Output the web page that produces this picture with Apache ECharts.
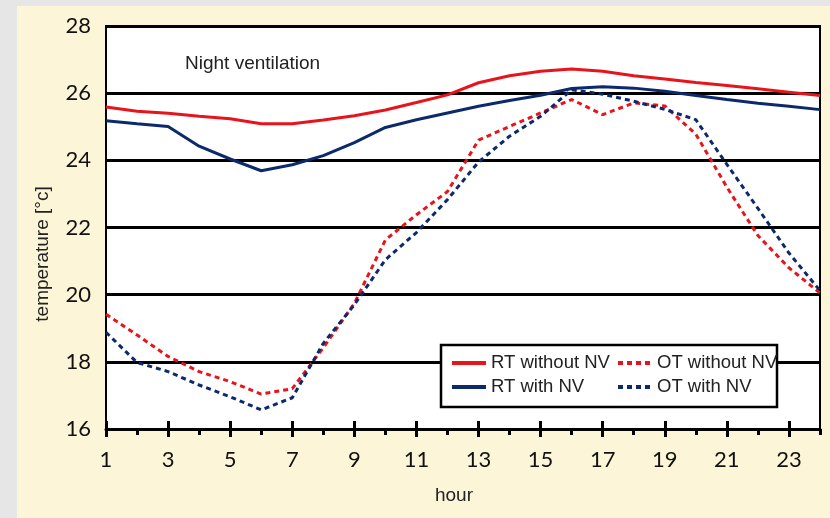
<!DOCTYPE html>
<html><head><meta charset="utf-8">
<script src="https://cdn.jsdelivr.net/npm/echarts@6/dist/echarts.min.js"></script>
<style>
html,body{margin:0;padding:0;background:#e6e6e6;}
#wrap{position:relative;width:830px;height:518px;overflow:hidden;background:#e6e6e6;}
#panel{position:absolute;left:17px;top:6px;right:0;bottom:0;background:#fdf5d8;}
#chart{position:absolute;left:0;top:0;width:830px;height:518px;}
</style></head><body>
<div id="wrap"><div id="panel"></div><div id="chart"></div></div>
<script>
const hours = ['1','2','3','4','5','6','7','8','9','10','11','12','13','14','15','16','17','18','19','20','21','22','23','24'];
const yTicks = [16, 18, 20, 22, 24, 26, 28];
const rtWithoutNV = [25.59, 25.46, 25.40, 25.31, 25.24, 25.09, 25.09, 25.20, 25.33, 25.50, 25.72, 25.95, 26.31, 26.52, 26.65, 26.72, 26.65, 26.52, 26.42, 26.32, 26.23, 26.13, 26.03, 25.93];
const rtWithNV    = [25.18, 25.09, 25.01, 24.42, 24.04, 23.69, 23.87, 24.14, 24.53, 24.98, 25.21, 25.41, 25.61, 25.78, 25.94, 26.14, 26.19, 26.15, 26.06, 25.93, 25.81, 25.70, 25.61, 25.51];
const otWithoutNV = [19.42, 18.80, 18.16, 17.71, 17.41, 17.04, 17.20, 18.42, 19.74, 21.63, 22.38, 23.07, 24.60, 25.01, 25.41, 25.81, 25.36, 25.71, 25.62, 24.78, 23.20, 21.76, 20.80, 20.05];
const otWithNV    = [18.88, 17.98, 17.71, 17.31, 16.96, 16.57, 16.93, 18.55, 19.70, 21.04, 21.85, 22.83, 23.95, 24.72, 25.31, 26.10, 25.97, 25.76, 25.52, 25.21, 23.88, 22.57, 21.24, 20.12];

const RED = '#e8141c', NAVY = '#0c2a6b';
const labelFont = 'Lato, "Liberation Sans", sans-serif';
const textFont = '"Liberation Sans", Arial, sans-serif';

const chart = echarts.init(document.getElementById('chart'), null, {renderer:'canvas'});
const xCommon = {type:'category', data:hours, boundaryGap:false, position:'bottom', splitLine:{show:false}};
const legendCommon = {orient:'vertical', top:353, padding:0, itemWidth:34, itemHeight:14, itemGap:4, z:20,
  itemStyle:{opacity:0, borderWidth:0},
  lineStyle:{width:4},
  textStyle:{fontSize:18.5, fontFamily:textFont, color:'#222', lineHeight:20}};

chart.setOption({
  animation:false,
  backgroundColor:'transparent',
  grid:{left:106, right:10, top:26, bottom:89, show:true, backgroundColor:'#fff', borderColor:'#000', borderWidth:2, outerBoundsMode:'none', containLabel:false},
  xAxis:[
    Object.assign({}, xCommon, {
      axisLine:{show:true, lineStyle:{color:'#000', width:3}},
      axisTick:{show:true, interval:(i)=>i%2===0, length:8, lineStyle:{color:'#000', width:3}},
      axisLabel:{interval:(i)=>i%2===0, fontSize:22, fontFamily:labelFont, color:'#111', margin:20}
    }),
    Object.assign({}, xCommon, {
      axisLine:{show:false},
      axisTick:{show:true, inside:true, interval:(i)=>i%2===0, length:8, lineStyle:{color:'#000', width:3}},
      axisLabel:{show:false}
    }),
    Object.assign({}, xCommon, {
      axisLine:{show:false},
      axisTick:{show:true, interval:(i)=>i%2===1, length:6, lineStyle:{color:'#000', width:3}},
      axisLabel:{show:false}
    })
  ],
  yAxis:{type:'value', min:yTicks[0], max:yTicks[yTicks.length-1], interval:yTicks[1]-yTicks[0],
    axisLine:{show:true, lineStyle:{color:'#000', width:2}},
    axisTick:{show:false},
    axisLabel:{fontSize:22, fontFamily:labelFont, color:'#111', margin:15},
    splitLine:{show:true, lineStyle:{color:'#000', width:3}}
  },
  legend:[
    Object.assign({}, legendCommon, {left:450, data:['RT without NV','RT with NV']}),
    Object.assign({}, legendCommon, {left:616, data:['OT without NV','OT with NV']})
  ],
  graphic:[
    {type:'rect', shape:{x:441, y:345, width:336, height:62}, style:{fill:'#fff', stroke:'#000', lineWidth:2.5}, z:5},
    {type:'text', x:185, y:64, style:{text:'Night ventilation', fontSize:19, fontFamily:textFont, fill:'#222', align:'left', verticalAlign:'middle', textAlign:'left', textVerticalAlign:'middle'}},
    {type:'text', x:454, y:496, style:{text:'hour', fontSize:19, fontFamily:textFont, fill:'#222', align:'center', verticalAlign:'middle', textAlign:'center', textVerticalAlign:'middle'}},
    {type:'text', x:43, y:254, rotation:Math.PI/2, style:{text:'temperature [°c]', fontSize:19, fontFamily:textFont, fill:'#222', align:'center', verticalAlign:'middle', textAlign:'center', textVerticalAlign:'middle'}}
  ],
  series:[
    {name:'RT without NV', type:'line', data:rtWithoutNV, symbol:'none', lineStyle:{color:RED, width:3}, itemStyle:{color:RED}, z:3},
    {name:'RT with NV', type:'line', data:rtWithNV, symbol:'none', lineStyle:{color:NAVY, width:3}, itemStyle:{color:NAVY}, z:3},
    {name:'OT without NV', type:'line', data:otWithoutNV, symbol:'none', lineStyle:{color:RED, width:3, type:[5,4]}, itemStyle:{color:RED}, z:3},
    {name:'OT with NV', type:'line', data:otWithNV, symbol:'none', lineStyle:{color:NAVY, width:3, type:[5,4]}, itemStyle:{color:NAVY}, z:3}
  ]
});
</script>
</body></html>
